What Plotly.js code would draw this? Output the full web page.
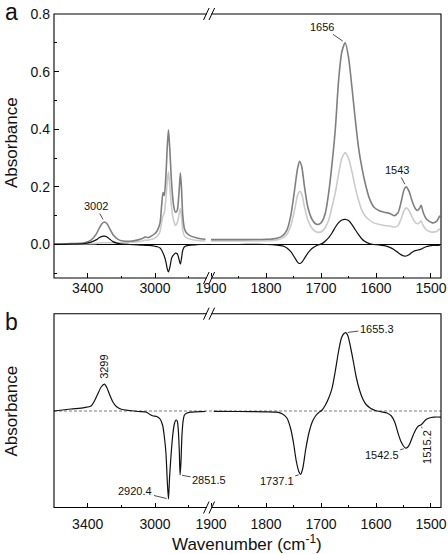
<!DOCTYPE html>
<html>
<head>
<meta charset="utf-8">
<script src="https://cdn.plot.ly/plotly-3.0.1.min.js"></script>
<style>html,body{margin:0;padding:0;background:#fff;}#chart{width:448px;height:554px;}</style>
</head>
<body>
<div id="chart"></div>
<script>
// ---------- Panel a, high-wavenumber segment ----------
const wnA_left = [3600,3500,3420,3380,3350,3330,3315,3300,3285,3270,3250,3220,3190,3150,3100,3070,3060,3040,3020,3000,2985,2970,2960,2952,2945,2935,2927,2920,2912,2900,2888,2878,2868,2860,2854,2849,2843,2835,2825,2810,2790,2760,2730,2700];
const darkA_left = [0.002,0.003,0.006,0.015,0.035,0.058,0.072,0.078,0.072,0.056,0.035,0.018,0.012,0.011,0.016,0.022,0.026,0.024,0.030,0.038,0.050,0.075,0.140,0.180,0.170,0.240,0.340,0.398,0.330,0.200,0.130,0.112,0.118,0.160,0.210,0.248,0.200,0.100,0.055,0.038,0.030,0.024,0.020,0.018];
const lightA_left = [0.001,0.001,0.002,0.003,0.004,0.005,0.006,0.006,0.006,0.006,0.006,0.006,0.007,0.008,0.010,0.013,0.015,0.015,0.018,0.022,0.030,0.045,0.080,0.100,0.110,0.160,0.220,0.252,0.200,0.120,0.080,0.066,0.075,0.095,0.115,0.125,0.100,0.050,0.030,0.022,0.018,0.015,0.013,0.012];
const diffA_left = [0,0.001,0.003,0.008,0.016,0.024,0.028,0.029,0.026,0.019,0.010,0.004,0.001,0,-0.001,-0.002,-0.003,-0.003,-0.004,-0.006,-0.008,-0.012,-0.020,-0.030,-0.040,-0.060,-0.085,-0.095,-0.080,-0.045,-0.035,-0.030,-0.032,-0.045,-0.060,-0.068,-0.050,-0.020,-0.008,-0.004,-0.002,-0.001,0,0];

// ---------- Panel a, low-wavenumber segment ----------
const wnA_right = [1900,1850,1800,1780,1770,1762,1755,1748,1743,1739,1735,1730,1724,1717,1710,1704,1698,1692,1686,1680,1674,1668,1662,1656,1650,1644,1638,1632,1626,1620,1612,1604,1595,1585,1575,1567,1560,1554,1549,1545,1540,1535,1530,1525,1521,1518,1514,1509,1503,1497,1490,1484];
const darkA_right = [0.017,0.017,0.018,0.022,0.030,0.050,0.100,0.190,0.260,0.289,0.270,0.200,0.130,0.090,0.072,0.070,0.080,0.110,0.180,0.280,0.400,0.570,0.670,0.700,0.650,0.550,0.440,0.340,0.270,0.215,0.160,0.130,0.118,0.112,0.108,0.100,0.110,0.150,0.190,0.200,0.185,0.155,0.130,0.118,0.125,0.136,0.110,0.090,0.080,0.075,0.080,0.100];
const lightA_right = [0.012,0.012,0.013,0.016,0.022,0.035,0.065,0.120,0.168,0.185,0.175,0.130,0.085,0.058,0.045,0.042,0.046,0.060,0.085,0.130,0.180,0.245,0.300,0.318,0.300,0.255,0.200,0.155,0.120,0.100,0.085,0.075,0.070,0.066,0.064,0.060,0.066,0.090,0.118,0.127,0.118,0.098,0.080,0.072,0.075,0.082,0.065,0.052,0.045,0.043,0.045,0.055];
const diffA_right = [0,0,0,-0.002,-0.005,-0.012,-0.025,-0.045,-0.060,-0.066,-0.062,-0.048,-0.030,-0.015,-0.006,-0.001,0.003,0.012,0.024,0.040,0.060,0.076,0.085,0.087,0.083,0.070,0.052,0.035,0.020,0.010,0.003,0,-0.001,-0.004,-0.010,-0.018,-0.028,-0.036,-0.040,-0.040,-0.036,-0.028,-0.022,-0.020,-0.018,-0.016,-0.012,-0.008,-0.005,-0.003,-0.003,-0.003];

// ---------- Panel b ----------
const wnB_left = [3600,3500,3420,3380,3360,3340,3320,3300,3285,3270,3250,3230,3200,3150,3100,3050,3030,3010,2990,2970,2955,2945,2935,2927,2920,2913,2905,2895,2885,2875,2868,2862,2856,2851,2846,2840,2833,2825,2810,2790,2760,2730,2700];
const diffB_left = [0,0.020,0.034,0.050,0.100,0.170,0.240,0.268,0.230,0.165,0.090,0.045,0.018,0.005,-0.005,-0.012,-0.035,-0.050,-0.055,-0.080,-0.140,-0.250,-0.420,-0.700,-0.880,-0.650,-0.450,-0.250,-0.130,-0.090,-0.100,-0.180,-0.380,-0.640,-0.520,-0.250,-0.100,-0.040,-0.020,-0.012,-0.008,-0.006,-0.005];
const wnB_right = [1895,1850,1800,1780,1770,1762,1755,1750,1745,1740,1737,1733,1728,1722,1716,1710,1704,1698,1692,1686,1680,1674,1668,1663,1659,1655,1651,1646,1641,1636,1630,1624,1618,1610,1600,1590,1580,1572,1566,1560,1555,1550,1546,1542,1538,1533,1528,1523,1518,1514,1509,1503,1495,1488,1482];
const diffB_right = [-0.003,-0.005,-0.008,-0.012,-0.030,-0.070,-0.180,-0.320,-0.500,-0.610,-0.633,-0.570,-0.390,-0.220,-0.110,-0.050,-0.015,0.010,0.060,0.130,0.227,0.400,0.600,0.727,0.770,0.783,0.750,0.630,0.490,0.340,0.210,0.120,0.065,0.028,0.003,-0.008,-0.020,-0.050,-0.110,-0.220,-0.300,-0.350,-0.372,-0.360,-0.320,-0.250,-0.190,-0.150,-0.138,-0.115,-0.085,-0.070,-0.062,-0.060,-0.062];

// ---------- labels ----------
const tickLeft = {tick0: 3400, dtick: 400, minor: 200};
const tickRight = {tick0: 1500, dtick: 100, minor: 50};
const peakLabelsA = [
  {axis:'x', x:3300, y:0.078, text:'3002', ax:-9, ay:-16},
  {axis:'x2', x:1656, y:0.700, text:'1656', ax:-23, ay:-16},
  {axis:'x2', x:1545, y:0.200, text:'1543', ax:-9, ay:-17}
];
const peakLabelsB = [
  {axis:'x3', x:2920, y:-0.880, text:'2920.4', ax:-33, ay:-8, angle:0},
  {axis:'x3', x:2851, y:-0.640, text:'2851.5', ax:29, ay:5, angle:0},
  {axis:'x4', x:1737, y:-0.633, text:'1737.1', ax:-24, ay:7, angle:0},
  {axis:'x4', x:1655, y:0.783, text:'1655.3', ax:31, ay:-4, angle:0},
  {axis:'x4', x:1546, y:-0.372, text:'1542.5', ax:-24, ay:7, angle:0},
  {axis:'x4', x:1518, y:-0.138, text:'1515.2', ax:6, ay:22, angle:-90}
];

const W = 448, H = 554;
const px = v => v / W;
const py = v => 1 - v / H;
const FONT = 'Liberation Sans, Arial, sans-serif';
const DARK = '#7f7f7f', LIGHT = '#cbcbcb', BLACK = '#111111';

function line(xs, ys, xa, ya, color, width) {
  return {x: xs, y: ys, xaxis: xa, yaxis: ya, type: 'scatter', mode: 'lines',
    line: {color: color, width: width, shape: 'spline', smoothing: 0.7},
    hoverinfo: 'skip', showlegend: false};
}

const traces = [
  line(wnA_left, lightA_left, 'x', 'y', LIGHT, 1.6),
  line(wnA_left, darkA_left, 'x', 'y', DARK, 1.6),
  line(wnA_left, diffA_left, 'x', 'y', BLACK, 1.2),
  line(wnA_right, lightA_right, 'x2', 'y', LIGHT, 1.6),
  line(wnA_right, darkA_right, 'x2', 'y', DARK, 1.6),
  line(wnA_right, diffA_right, 'x2', 'y', BLACK, 1.2),
  line(wnB_left, diffB_left, 'x3', 'y2', BLACK, 1.2),
  line(wnB_right, diffB_right, 'x4', 'y2', BLACK, 1.2)
];

function xaxis(domain, range, t, anchor, standoff) {
  return {domain: domain, range: range, anchor: anchor, tickmode: 'linear',
    tick0: t.tick0, dtick: t.dtick, ticks: 'inside', ticklen: 5, tickwidth: 1, tickcolor: '#000',
    minor: {tick0: t.tick0, dtick: t.minor, ticks: 'inside', ticklen: 2.5, tickwidth: 1, tickcolor: '#000', showgrid: false},
    showgrid: false, zeroline: false, showline: false, fixedrange: true,
    ticklabelstandoff: standoff,
    tickfont: {family: FONT, size: 14, color: '#111'}};
}

// panel geometry (pixels)
const A = {top: 14, bottom: 278}, B = {top: 313.7, bottom: 507.5};
const L = {l: 54, r: 206}, R = {l: 208, r: 441};

const layout = {
  width: W, height: H, margin: {l: 0, r: 0, t: 0, b: 0},
  paper_bgcolor: '#fff', plot_bgcolor: 'rgba(0,0,0,0)', showlegend: false,
  xaxis: xaxis([px(L.l), px(L.r)], [3600, 2697], tickLeft, 'y', 0),
  xaxis2: xaxis([px(R.l), px(R.r)], [1905.5, 1481.8], tickRight, 'y', 0),
  xaxis3: xaxis([px(L.l), px(L.r)], [3600, 2697], tickLeft, 'y2', 6),
  xaxis4: xaxis([px(R.l), px(R.r)], [1905.5, 1481.8], tickRight, 'y2', 6),
  yaxis: {domain: [py(A.bottom), py(A.top)], range: [-0.1163, 0.8], anchor: 'x',
    tickmode: 'linear', tick0: 0, dtick: 0.2, tickformat: '.1f',
    ticks: 'inside', ticklen: 5, tickwidth: 1, tickcolor: '#000',
    minor: {tick0: 0, dtick: 0.1, ticks: 'inside', ticklen: 2.5, tickwidth: 1, tickcolor: '#000', showgrid: false},
    showgrid: false, zeroline: false, showline: false, fixedrange: true, ticklabelstandoff: 3,
    tickfont: {family: FONT, size: 14, color: '#111'}},
  yaxis2: {domain: [py(B.bottom), py(B.top)], range: [-0.965, 0.973], anchor: 'x3',
    showticklabels: false, ticks: '', showgrid: false, zeroline: false, showline: false, fixedrange: true},
  shapes: [],
  annotations: []
};

// zero lines
layout.shapes.push({type: 'line', xref: 'paper', yref: 'y', x0: px(L.l), x1: px(R.r), y0: 0, y1: 0,
  line: {color: '#000', width: 1.2}, layer: 'below'});
layout.shapes.push({type: 'line', xref: 'paper', yref: 'y2', x0: px(L.l), x1: px(R.r), y0: 0, y1: 0,
  line: {color: '#555', width: 0.8, dash: '3px,2px'}, layer: 'below'});

// frames + axis-break marks
[A, B].forEach(p => {
  layout.shapes.push({type: 'rect', xref: 'paper', yref: 'paper', x0: px(L.l), x1: px(R.r), y0: py(p.bottom), y1: py(p.top),
    line: {color: '#000', width: 1.1}, fillcolor: 'rgba(0,0,0,0)'});
  [p.top, p.bottom].forEach(yy => {
    layout.shapes.push({type: 'rect', xref: 'paper', yref: 'paper', x0: px(206.8), x1: px(211.4), y0: py(yy + 2), y1: py(yy - 2),
      line: {width: 0}, fillcolor: '#fff'});
    [206.3, 211.8].forEach(xc => {
      layout.shapes.push({type: 'line', xref: 'paper', yref: 'paper', x0: px(xc - 2.8), x1: px(xc + 2.8), y0: py(yy + 6), y1: py(yy - 6),
        line: {color: '#000', width: 1}});
    });
  });
});

// peak labels
peakLabelsA.forEach(a => layout.annotations.push({xref: a.axis, yref: 'y', x: a.x, y: a.y, text: a.text,
  showarrow: true, arrowhead: 0, arrowwidth: 0.8, arrowcolor: '#222', ax: a.ax, ay: a.ay, standoff: 3, startstandoff: 0,
  font: {family: FONT, size: 11, color: '#111'}}));
peakLabelsB.forEach(a => layout.annotations.push({xref: a.axis, yref: 'y2', x: a.x, y: a.y, text: a.text, textangle: a.angle,
  showarrow: true, arrowhead: 0, arrowwidth: 0.8, arrowcolor: '#222', ax: a.ax, ay: a.ay, standoff: 2, startstandoff: 0,
  font: {family: FONT, size: 11, color: '#111'}}));
layout.annotations.push({xref: 'x3', yref: 'y2', x: 3299, y: 0.268, text: '3299', textangle: -90, showarrow: false,
  yshift: 17, font: {family: FONT, size: 11, color: '#111'}});

// titles and panel letters
const txt = (x, y, text, size, angle) => ({xref: 'paper', yref: 'paper', x: px(x), y: py(y), text: text,
  showarrow: false, textangle: angle || 0, xanchor: 'center', yanchor: 'middle', font: {family: FONT, size: size, color: '#111'}});
layout.annotations.push(txt(11, 143, 'Absorbance', 17, -90));
layout.annotations.push(txt(10.5, 411, 'Absorbance', 17, -90));
layout.annotations.push(txt(247, 543, 'Wavenumber (cm<sup>-1</sup>)', 17, 0));
layout.annotations.push(txt(11, 12, 'a', 23, 0));
layout.annotations.push(txt(11, 322, 'b', 23, 0));

Plotly.newPlot('chart', traces, layout, {staticPlot: true, displayModeBar: false});
</script>
</body>
</html>
